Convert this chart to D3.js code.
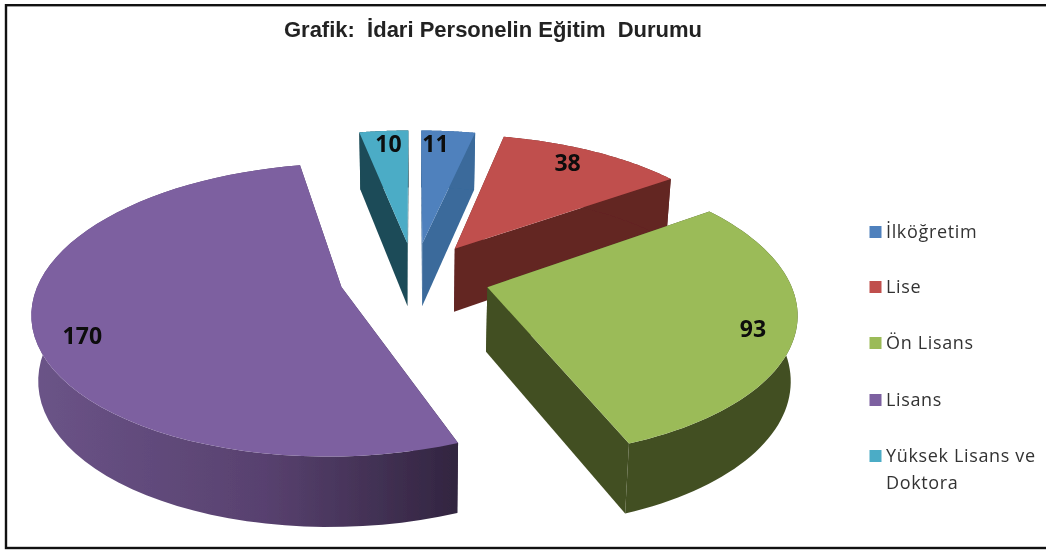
<!DOCTYPE html>
<html><head><meta charset="utf-8">
<script src="https://cdn.jsdelivr.net/npm/d3@7"></script>
<style>html,body{margin:0;padding:0;background:#fff;overflow:hidden}svg{display:block}</style>
</head><body><div id="c"></div>
<script>
const legendLines = [["İlköğretim"],["Lise"],["Ön Lisans"],["Lisans"],["Yüksek Lisans ve","Doktora"]];
const values = [11,38,93,170,10];
const topColors = ["#4f81bd","#c0504d","#9bbb59","#7d60a0","#4bacc6"];
const wallColors = ["#3a6a9b","#632523","#434f23","url(#pw)","#1e4c58"];
const drawOrder = [0,4,1,2,3];
const labelFrac = [.296,.452,.519,.468,.545];
const labelRad = [.865,.85,.87,.86,.866];
const legendY = [232,287,343,400,456];

const W=1046,H=550;
const svg=d3.select("#c").append("svg").attr("width",W).attr("height",H);
const defs=svg.append("defs");
const g=defs.append("linearGradient").attr("id","pw").attr("gradientUnits","userSpaceOnUse")
  .attr("x1",30).attr("x2",457).attr("y1",0).attr("y2",0);
g.append("stop").attr("offset",0).attr("stop-color","#6b5488");
g.append("stop").attr("offset",.55).attr("stop-color","#58416f");
g.append("stop").attr("offset",1).attr("stop-color","#322540");
defs.append("filter").attr("id","soft").append("feGaussianBlur").attr("stdDeviation",.45);

svg.append("rect").attr("x",6).attr("y",5.2).attr("width",1060).attr("height",542.8)
  .attr("fill","#fff").attr("stroke","#111").attr("stroke-width",2.4);

// perspective projection of the pie plane
const X0=414.5,Y0=277,S=301,Sy=140,K=.155,EXP=.25;
function project(x,y,low){
  const w=1+K*y;
  const px=X0+S*x/w*(low?.982:1);
  const py=Y0-Sy*y/w+(low?64.2-5.8*y:0);
  return [px,py];
}
const pie=d3.pie().sort(null).value(d=>d)(values);
const line=d3.line();
const plot=svg.append("g").attr("filter","url(#soft)");

function world(d,a,r){
  const m=(d.startAngle+d.endAngle)/2;
  return [EXP*Math.sin(m)+r*Math.sin(a),EXP*Math.cos(m)+r*Math.cos(a)];
}
function arcPts(d,low){
  return d3.range(0,61).map(i=>{
    const a=d3.interpolateNumber(d.startAngle,d.endAngle)(i/60);
    const p=world(d,a,1);return project(p[0],p[1],low);
  });
}
drawOrder.forEach(i=>{
  const d=pie[i];
  const c=world(d,0,0);
  const apexT=project(c[0],c[1],false),apexB=project(c[0],c[1],true);
  const top=arcPts(d,false),bot=arcPts(d,true);
  const n=top.length-1;
  const gr=plot.append("g");
  gr.append("path").attr("d",line([apexT,top[0],bot[0],apexB])+"Z").attr("fill",wallColors[i]);
  gr.append("path").attr("d",line([apexT,top[n],bot[n],apexB])+"Z").attr("fill",wallColors[i]);
  gr.append("path").attr("d",line(top.concat(bot.slice().reverse()))+"Z").attr("fill",wallColors[i]);
  gr.append("path").attr("d",line([apexT].concat(top))+"Z").attr("fill",topColors[i]);
});
const labels=plot.append("g").attr("font-family","'Open Sans',sans-serif").attr("font-weight",700)
  .attr("font-size",23).attr("fill","#0a0a0a").attr("text-anchor","middle");
pie.forEach((d,i)=>{
  const a=d.startAngle+(d.endAngle-d.startAngle)*labelFrac[i];
  const p=world(d,a,labelRad[i]),q=project(p[0],p[1],false);
  labels.append("text").attr("x",q[0]).attr("y",q[1]+8).text(values[i]);
});
plot.append("text").attr("x",493).attr("y",37).attr("text-anchor","middle")
  .attr("font-family","'Liberation Sans',Arial,sans-serif").attr("font-weight",700)
  .attr("font-size",22).attr("fill","#222").style("white-space","pre")
  .text("Grafik:  İdari Personelin Eğitim  Durumu");
const leg=plot.append("g").attr("font-family","'Open Sans',sans-serif").attr("font-size",18)
  .attr("letter-spacing",.65).attr("fill","#333");
legendLines.forEach((ls,i)=>{
  leg.append("rect").attr("x",869.5).attr("y",legendY[i]-6).attr("width",12).attr("height",12).attr("fill",topColors[i]);
  ls.forEach((t,j)=>leg.append("text").attr("x",886).attr("y",legendY[i]+6+j*27).text(t));
});
</script></body></html>
